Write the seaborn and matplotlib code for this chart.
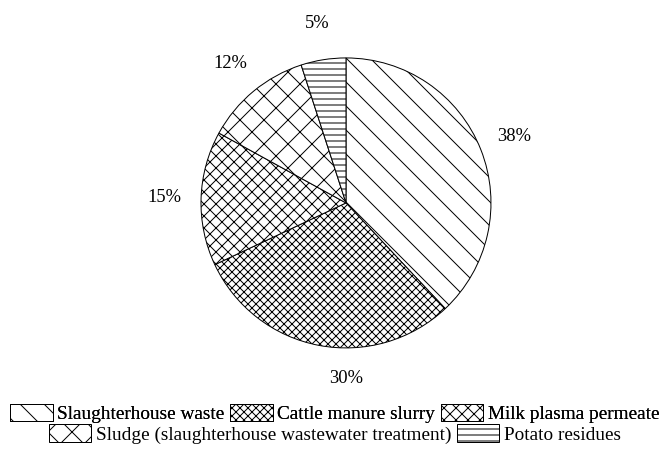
import matplotlib
matplotlib.use('Agg')
import matplotlib.pyplot as plt
import seaborn as sns
from matplotlib.patches import Patch

# Data
categories = ['Slaughterhouse waste', 'Cattle manure slurry', 'Milk plasma permeate',
              'Sludge (slaughterhouse wastewater treatment)', 'Potato residues']
shares = [38, 30, 15, 12, 5]
pct_labels = ['38%', '30%', '15%', '12%', '5%']
hatches = ['\\', 'xxx', 'xx', 'x', '--']

sns.set_style('white')
plt.rcParams['font.family'] = ['Liberation Serif', 'DejaVu Serif']
plt.rcParams['text.color'] = 'black'
plt.rcParams['hatch.linewidth'] = 1.0
plt.rcParams['hatch.color'] = 'black'

# dpi 72 so that the hatch spacing comes out like the original
DPI = 72
fig = plt.figure(figsize=(670 / DPI, 455 / DPI), dpi=DPI)
ax = fig.add_axes([0.2459, 0.1555, 0.541, 0.797])

wedges, texts = ax.pie(shares, labels=pct_labels, startangle=90, counterclock=False,
                       colors=['white'] * len(shares), labeldistance=1.25,
                       wedgeprops=dict(edgecolor='black', linewidth=1.0),
                       textprops=dict(fontsize=18.5, color='black'))
for w, h in zip(wedges, hatches):
    w.set_hatch(h)
for t in texts:
    t.set_ha('center')
    t.set_va('center')

# the 30% label sits straight below the pie in the original
texts[1].set_x(0)
texts[1].set_y(-1.21)
ax.set_aspect('equal')

handles = [Patch(facecolor='white', edgecolor='black', hatch=h, linewidth=1.0) for h in hatches]

leg_kw = dict(loc='center', frameon=False, fontsize=19.2, handlelength=2.2, handleheight=1.0,
              handletextpad=0.25, columnspacing=0.3, borderaxespad=0, borderpad=0,
              labelcolor='black')
leg1 = fig.legend(handles[:3], categories[:3], bbox_to_anchor=(0.5, 0.092), ncol=3, **leg_kw)
fig.add_artist(leg1)
leg2 = fig.legend(handles[3:], categories[3:], bbox_to_anchor=(0.5, 0.046), ncol=2, **leg_kw)

fig.savefig('out.png', dpi=DPI)
